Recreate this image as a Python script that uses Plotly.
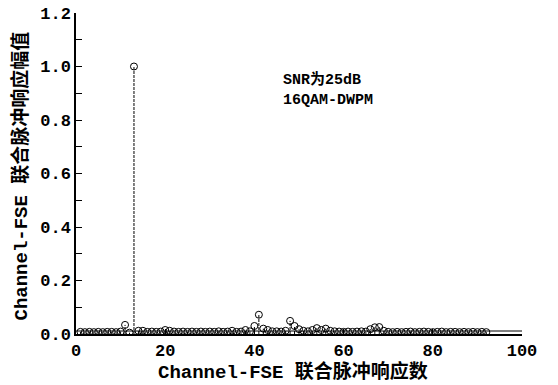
import plotly.graph_objects as go

# Data: joint impulse response magnitude, taps 1..92
taps = list(range(1, 93))
amplitudes = [
    0.008, 0.007, 0.008, 0.007, 0.008, 0.007, 0.008, 0.008, 0.007, 0.009,  # 1-10
    0.034, 0.005, 1.000, 0.012, 0.012, 0.008, 0.009, 0.008, 0.009, 0.015,  # 11-20
    0.012, 0.009, 0.008, 0.009, 0.008, 0.009, 0.008, 0.009, 0.008, 0.009,  # 21-30
    0.008, 0.010, 0.008, 0.009, 0.012, 0.008, 0.009, 0.015, 0.010, 0.030,  # 31-40
    0.072, 0.020, 0.015, 0.010, 0.010, 0.009, 0.012, 0.049, 0.030, 0.018,  # 41-50
    0.012, 0.010, 0.015, 0.022, 0.015, 0.020, 0.012, 0.010, 0.009, 0.008,  # 51-60
    0.009, 0.008, 0.009, 0.010, 0.009, 0.018, 0.025, 0.026, 0.012, 0.008,  # 61-70
    0.007, 0.008, 0.007, 0.008, 0.009, 0.007, 0.008, 0.009, 0.008, 0.007,  # 71-80
    0.008, 0.009, 0.007, 0.008, 0.008, 0.007, 0.008, 0.007, 0.008, 0.007,  # 81-90
    0.008, 0.007,                                                          # 91-92
]
x_ticks = [0, 20, 40, 60, 80, 100]
y_ticks = [0, 0.2, 0.4, 0.6, 0.8, 1.0, 1.2]
y_tick_text = ["0.0", "0.2", "0.4", "0.6", "0.8", "1.0", "1.2"]

x_title = "Channel-FSE 联合脉冲响应数"
y_title = "Channel-FSE 联合脉冲响应幅值"
note_lines = ["SNR为25dB", "16QAM-DWPM"]

FONT = "Liberation Mono, Noto Sans CJK SC, monospace"

# stems built from data
stem_x, stem_y = [], []
for t, a in zip(taps, amplitudes):
    stem_x += [t, t, None]
    stem_y += [0, a, None]

fig = go.Figure()
fig.add_trace(go.Scatter(
    x=stem_x, y=stem_y, mode="lines",
    line=dict(color="black", width=1, dash="3px,1px"),
    hoverinfo="skip", showlegend=False,
))
fig.add_trace(go.Scatter(
    x=taps, y=amplitudes, mode="markers",
    marker=dict(symbol="circle-open", size=7, color="black",
                line=dict(color="black", width=1)),
    showlegend=False,
))

# stem baseline (slightly above the axis line, like the original)
fig.add_shape(type="line", xref="x", yref="y", x0=0, x1=100,
              ysizemode="pixel", yanchor=0, y0=3, y1=3,
              line=dict(color="black", width=1))

fig.add_annotation(
    x=46, y=0.99, xref="x", yref="y", xanchor="left", yanchor="top",
    text="<br>".join(note_lines), showarrow=False, align="left",
    font=dict(family=FONT, size=15, color="black", weight="bold"),
)

# axis titles
fig.add_annotation(
    x=0.5, y=0, xref="paper", yref="paper", xanchor="center", yanchor="middle",
    xshift=-6, yshift=-38, text=x_title, showarrow=False,
    font=dict(family=FONT, size=19, color="black", weight="bold"),
)
fig.add_annotation(
    x=0, y=0.5, xref="paper", yref="paper", xanchor="center", yanchor="middle",
    xshift=-56, yshift=-3, textangle=-90, text=y_title, showarrow=False,
    font=dict(family=FONT, size=19, color="black", weight="bold"),
)

fig.update_layout(
    width=558, height=385,
    margin=dict(l=76, r=36, t=13, b=51, autoexpand=False),
    paper_bgcolor="white", plot_bgcolor="white",
    font=dict(family=FONT, color="black"),
)
fig.update_xaxes(
    range=[0, 100], tickvals=x_ticks, ticks="inside", ticklen=5,
    tickcolor="black", showline=True, linecolor="black", linewidth=1.5,
    showgrid=False, zeroline=False, mirror=False, automargin=False,
    ticklabeloverflow="allow",
    tickfont=dict(family=FONT, size=17, color="black", weight="bold"),
)
fig.update_yaxes(
    range=[0, 1.2], tickvals=y_ticks, ticktext=y_tick_text,
    ticks="inside", ticklen=6, tickcolor="black",
    minor=dict(tickvals=[0.1, 0.3, 0.5, 0.7, 0.9, 1.1], ticks="inside",
               ticklen=6, tickcolor="black"),
    showline=True, linecolor="black", linewidth=1.5,
    showgrid=False, zeroline=False, automargin=False,
    ticklabeloverflow="allow",
    tickfont=dict(family=FONT, size=17, color="black", weight="bold"),
)

fig.write_html(
    "out.html",
    config={"displayModeBar": False},
    post_script="document.body.style.margin='0';document.body.style.overflow='hidden';",
)
